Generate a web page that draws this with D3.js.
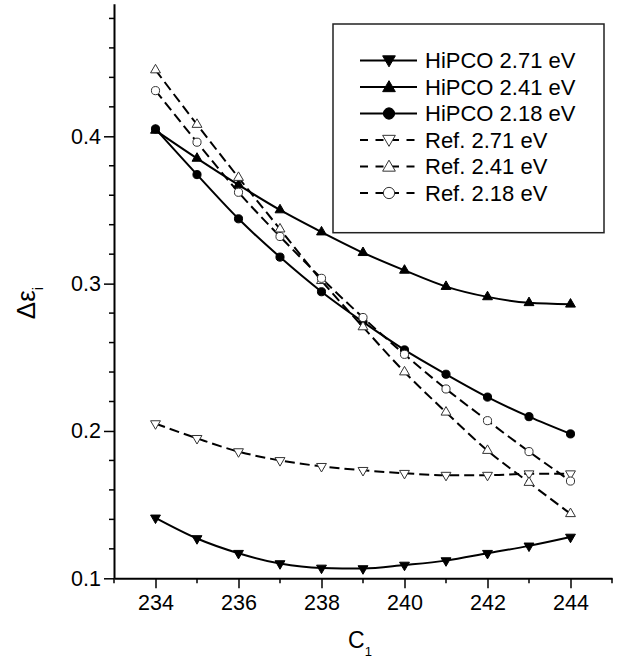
<!DOCTYPE html>
<html>
<head>
<meta charset="utf-8">
<script src="https://cdn.jsdelivr.net/npm/d3@7"></script>
<style>
    html, body { margin: 0; padding: 0; background: #fff; overflow: hidden; }
    svg { display: block; }
</style>
</head>
<body>
<div id="chart-container"></div>
<script>
// values
const c1 = [234, 235, 236, 237, 238, 239, 240, 241, 242, 243, 244];
const hipco271 = [0.141, 0.127, 0.117, 0.110, 0.107, 0.1066, 0.109, 0.112, 0.117, 0.122, 0.128];
const hipco241 = [0.404, 0.385, 0.367, 0.350, 0.335, 0.321, 0.309, 0.298, 0.291, 0.287, 0.286];
const hipco218 = [0.405, 0.374, 0.344, 0.318, 0.2945, 0.274, 0.255, 0.2385, 0.223, 0.2097, 0.198];
const ref271 = [0.205, 0.195, 0.186, 0.180, 0.176, 0.1733, 0.1713, 0.170, 0.170, 0.171, 0.171];
const ref241 = [0.445, 0.408, 0.372, 0.337, 0.302, 0.2706, 0.240, 0.2127, 0.1867, 0.165, 0.1438];
const ref218 = [0.431, 0.396, 0.362, 0.332, 0.3036, 0.277, 0.252, 0.2285, 0.207, 0.186, 0.166];

const xTicks = [234, 236, 238, 240, 242, 244];
const yTicks = [0.1, 0.2, 0.3, 0.4];

const seriesNames = ["HiPCO 2.71 eV", "HiPCO 2.41 eV", "HiPCO 2.18 eV",
    "Ref. 2.71 eV", "Ref. 2.41 eV", "Ref. 2.18 eV"];
const seriesValues = [hipco271, hipco241, hipco218, ref271, ref241, ref218];
const seriesShape = ["down", "up", "circle", "down", "up", "circle"];
const seriesOpen = [false, false, false, true, true, true];

const font = "Liberation Sans, Arial, sans-serif";
const width = 637;
const height = 661;
const margin = { top: 3.7, right: 25, bottom: 82.7, left: 114 };
const innerWidth = width - margin.left - margin.right;
const innerHeight = height - margin.top - margin.bottom;

const svg = d3
    .select("#chart-container")
    .append("svg")
    .attr("width", width)
    .attr("height", height)
    .attr("viewBox", `0 0 ${width} ${height}`)
    .attr("font-family", font);

const g = svg.append("g")
    .attr("transform", `translate(${margin.left},${margin.top})`);

const x = d3.scaleLinear().domain([233, 245]).range([0, innerWidth]);
const y = d3.scaleLinear().domain([0.1, 0.49]).range([innerHeight, 0]);

// axes: major ticks labelled, minor ticks half length
const xAxis = g.append("g")
    .attr("transform", `translate(0,${innerHeight})`)
    .call(d3.axisBottom(x).tickValues(xTicks).tickSize(10).tickSizeOuter(0)
        .tickFormat(d3.format("d")));
xAxis.selectAll(".minor")
    .data(d3.range(233, 246, 2))
    .join("line")
    .attr("class", "minor")
    .attr("x1", (d) => x(d)).attr("x2", (d) => x(d))
    .attr("y1", 0).attr("y2", 5)
    .attr("stroke", "#000").attr("stroke-width", 1.5);

const yAxis = g.append("g")
    .call(d3.axisLeft(y).tickValues(yTicks).tickSize(10).tickSizeOuter(0)
        .tickFormat(d3.format(".1f")));
yAxis.selectAll(".minor")
    .data(d3.range(0.12, 0.49, 0.02).filter((d) => Math.abs(d * 10 - Math.round(d * 10)) > 0.01))
    .join("line")
    .attr("class", "minor")
    .attr("y1", (d) => y(d)).attr("y2", (d) => y(d))
    .attr("x1", 0).attr("x2", -5)
    .attr("stroke", "#000").attr("stroke-width", 1.5);

g.selectAll("g").attr("font-family", font).attr("font-size", 21.5);
g.selectAll(".domain").attr("stroke-width", 2);
g.selectAll(".tick line").attr("stroke-width", 1.5);
g.selectAll(".tick text").attr("fill", "#000");
xAxis.selectAll(".tick text").attr("dy", "0.71em").attr("y", 16);
yAxis.selectAll(".tick text").attr("x", -13);

// axis titles
const xLabel = svg.append("text")
    .attr("x", margin.left + innerWidth / 2 - 3)
    .attr("y", 648)
    .attr("text-anchor", "middle")
    .attr("font-size", 23);
xLabel.append("tspan").text("C");
xLabel.append("tspan").attr("dy", 8).attr("font-size", 13).text("1");

const yLabel = svg.append("text")
    .attr("transform", "translate(35,303) rotate(-90)")
    .attr("text-anchor", "middle")
    .attr("font-size", 26);
yLabel.append("tspan").text("\u0394\u03b5");
yLabel.append("tspan").attr("dy", 8).attr("font-size", 15).text("i");

// markers
function symbolPath(shape, size) {
    const type = shape === "circle" ? d3.symbolCircle : d3.symbolTriangle;
    return d3.symbol().type(type).size(size)();
}
function markerTransform(shape, px, py) {
    return shape === "down" ? `translate(${px},${py}) rotate(180)` : `translate(${px},${py})`;
}

const line = d3.line()
    .x((d, i) => x(c1[i]))
    .y((d) => y(d))
    .curve(d3.curveMonotoneX);

seriesValues.forEach((vals, s) => {
    g.append("path")
        .datum(vals)
        .attr("d", line)
        .attr("fill", "none")
        .attr("stroke", "#000")
        .attr("stroke-width", 2)
        .attr("stroke-dasharray", seriesOpen[s] ? "10,5" : null);
});

seriesValues.forEach((vals, s) => {
    const shape = seriesShape[s];
    g.selectAll(`.mk${s}`)
        .data(vals)
        .join("path")
        .attr("class", `mk${s}`)
        .attr("d", symbolPath(shape, shape === "circle" ? 52 : 42))
        .attr("transform", (d, i) => markerTransform(shape, x(c1[i]), y(d)))
        .attr("fill", seriesOpen[s] ? "#fff" : "#000")
        .attr("stroke", seriesOpen[s] ? "#333" : "#000")
        .attr("stroke-width", 1);
});

// legend
const legend = svg.append("g");
legend.append("rect")
    .attr("x", 333).attr("y", 24)
    .attr("width", 271).attr("height", 208.7)
    .attr("fill", "#fff")
    .attr("stroke", "#222")
    .attr("stroke-width", 1.5);

seriesNames.forEach((name, s) => {
    const ly = 60.5 + s * 26.5;
    const shape = seriesShape[s];
    legend.append("line")
        .attr("x1", 360).attr("x2", 417)
        .attr("y1", ly).attr("y2", ly)
        .attr("stroke", "#000")
        .attr("stroke-width", 2)
        .attr("stroke-dasharray", seriesOpen[s] ? "8,7.5" : null);
    legend.append("path")
        .attr("d", symbolPath(shape, shape === "circle" ? 100 : 70))
        .attr("transform", markerTransform(shape, 389, ly + (shape === "up" ? 1 : shape === "down" ? -1 : 0)))
        .attr("fill", seriesOpen[s] ? "#fff" : "#000")
        .attr("stroke", seriesOpen[s] ? "#333" : "#000")
        .attr("stroke-width", 1);
    legend.append("text")
        .attr("x", 425)
        .attr("y", ly)
        .attr("dy", "0.36em")
        .attr("font-size", 22)
        .text(name);
});
</script>
</body>
</html>
